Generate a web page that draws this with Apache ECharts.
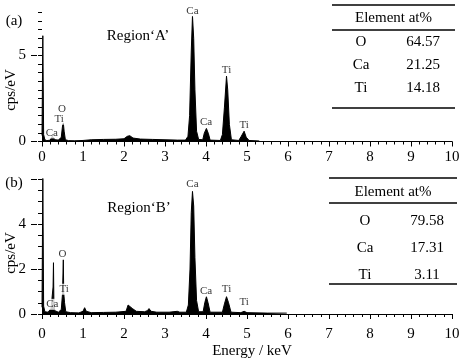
<!DOCTYPE html>
<html>
<head>
<meta charset="utf-8">
<script src="https://cdn.jsdelivr.net/npm/echarts@6/dist/echarts.min.js"></script>
<style>html,body{margin:0;padding:0;background:#fff;}#c{width:460px;height:360px;}</style>
</head>
<body>
<div id="c"></div>
<script>
// ---- Data ----
const xTickLabels = [0,1,2,3,4,5,6,7,8,9,10];
const yTickLabelsA = [0,5];
const yMajorTicksA = [0,5];
const yTickLabelsB = [0,2,4];
const yMajorTicksB = [0,2,4,6];

// Spectrum (a): energy (keV) and counts (cps/eV)
const specA_E = [0.00,0.02,0.04,0.07,0.12,0.20,0.25,0.28,0.32,0.40,0.47,0.50,0.52,0.54,0.57,0.65,0.80,1.00,1.20,1.50,1.80,2.00,2.08,2.14,2.22,2.40,2.70,3.00,3.30,3.50,3.56,3.60,3.64,3.67,3.70,3.73,3.77,3.82,3.92,3.96,4.01,4.06,4.10,4.35,4.40,4.45,4.50,4.53,4.57,4.62,4.80,4.86,4.93,4.98,5.05,5.30];
const specA_cps = [0.35,6.15,0.40,0.10,0.05,0.08,0.30,0.33,0.10,0.08,0.25,0.90,1.08,0.60,0.10,0.05,0.04,0.06,0.10,0.12,0.13,0.16,0.30,0.34,0.20,0.14,0.12,0.10,0.08,0.08,0.30,1.50,5.20,7.30,6.00,3.00,0.60,0.12,0.10,0.50,0.76,0.45,0.08,0.06,0.40,2.00,3.80,3.00,1.00,0.10,0.06,0.30,0.60,0.25,0.06,0.03];

// Spectrum (b)
const specB_E = [0.00,0.02,0.04,0.07,0.15,0.22,0.26,0.27,0.28,0.29,0.31,0.40,0.47,0.50,0.52,0.53,0.55,0.58,0.70,0.90,1.00,1.04,1.08,1.20,1.50,1.80,2.05,2.10,2.14,2.20,2.30,2.50,2.57,2.61,2.66,2.80,3.10,3.30,3.36,3.52,3.57,3.61,3.64,3.67,3.70,3.73,3.77,3.82,3.93,3.97,4.01,4.05,4.10,4.40,4.45,4.50,4.55,4.61,4.85,4.93,5.00,5.50,5.97];
const specB_cps = [0.30,6.05,0.35,0.10,0.08,0.25,0.30,1.20,2.28,0.60,0.15,0.08,0.20,0.90,2.43,0.95,0.50,0.10,0.06,0.05,0.12,0.28,0.12,0.06,0.07,0.08,0.12,0.40,0.45,0.25,0.12,0.10,0.15,0.24,0.12,0.08,0.08,0.12,0.08,0.08,0.40,2.00,4.50,5.45,4.80,2.50,0.60,0.10,0.10,0.50,0.77,0.50,0.08,0.08,0.45,0.77,0.50,0.08,0.06,0.12,0.06,0.04,0.04];

// Peak annotations (text, energy, counts)
const annA_text = ['Ca','Ti','O','Ca','Ca','Ti','Ti'];
const annA_E    = [0.24,0.42,0.49,3.67,4.00,4.50,4.93];
const annA_cps  = [0.50,1.30,1.90,7.60,1.12,4.15,0.95];
const annB_text = ['Ca','Ti','O','Ca','Ca','Ti','Ti'];
const annB_E    = [0.25,0.54,0.50,3.67,4.00,4.50,4.93];
const annB_cps  = [0.43,1.10,2.65,5.76,1.03,1.10,0.52];

// Composition tables
const elements = ['O','Ca','Ti'];
const atA = ['64.57','21.25','14.18'];
const atB = ['79.58','17.31','3.11'];
const tableHeader = 'Element at%';
const regionA = 'Region‘A’';
const regionB = 'Region‘B’';

// ---- Build ----
const FONT = 'Liberation Serif';
const zip = (a,b) => a.map((v,i)=>[v,b[i]]);
const annData = (t,e,c) => t.map((s,i)=>({value:[e[i],c[i]], name:s}));

function xAx(grid, margin, name) {
  const ax = {
    type:'value', gridIndex:grid, min:0, max:10, interval:1,
    axisLine:{show:true, onZero:false, lineStyle:{color:'#000', width:1}},
    axisTick:{show:true, length:5, lineStyle:{color:'#000'}},
    minorTick:{show:true, splitNumber:5, length:3, lineStyle:{color:'#000'}},
    splitLine:{show:false},
    axisLabel:{margin:margin, color:'#000', fontFamily:FONT, fontSize:15,
      formatter:v=> xTickLabels.includes(v) ? String(v) : ''}
  };
  if (name) {
    ax.name = name; ax.nameLocation = 'middle'; ax.nameGap = 30;
    ax.nameTextStyle = {color:'#000', fontFamily:FONT, fontSize:15, padding:[0,0,0,10]};
  }
  return ax;
}
function yMinor(grid, max) {
  return {type:'value', gridIndex:grid, min:0, max:max, interval:0.5, position:'left', offset:5,
    axisLine:{show:false}, axisTick:{show:true, length:4, lineStyle:{color:'#000'}},
    axisLabel:{show:false}, splitLine:{show:false}};
}
function yMajor(grid, max, interval, labels, ticks) {
  return {type:'value', gridIndex:grid, min:0, max:max, interval:interval, position:'left', offset:5,
    axisLine:{show:false},
    axisTick:{show:true, length:6, customValues:ticks, lineStyle:{color:'#000'}},
    splitLine:{show:false},
    axisLabel:{margin:11, color:'#000', fontFamily:FONT, fontSize:15, customValues:labels,
      formatter:v=> String(v)}};
}
function spec(xi, yi, data) {
  return {type:'line', xAxisIndex:xi, yAxisIndex:yi, data:data, symbol:'none', smooth:false,
    lineStyle:{color:'#000', width:1}, areaStyle:{color:'#000', opacity:1}, silent:true, animation:false};
}
function ann(xi, yi, data) {
  return {type:'scatter', xAxisIndex:xi, yAxisIndex:yi, data:data, symbolSize:0, clip:false, silent:true,
    animation:false, z:5,
    label:{show:true, position:'inside', formatter:p=>p.name, color:'#000', fontFamily:FONT, fontSize:11,
      backgroundColor:'#fff', padding:[0,0,0,0]}};
}
function table(x1, x2, yTop, yHead, yRule, yBot, rowsY, colE, colV, vals) {
  const els = [];
  [yTop, yRule, yBot].forEach(y => els.push({type:'line', shape:{x1:x1, y1:y, x2:x2, y2:y},
    style:{stroke:'#000', lineWidth:1.5}}));
  els.push({type:'text', x:(x1+x2)/2, y:yHead, style:{text:tableHeader, fontFamily:FONT, fontSize:15,
    fill:'#000', align:'center', verticalAlign:'middle'}});
  elements.forEach((el,i) => {
    els.push({type:'text', x:colE, y:rowsY[i], style:{text:el, fontFamily:FONT, fontSize:15, fill:'#000',
      align:'center', verticalAlign:'middle'}});
    els.push({type:'text', x:colV, y:rowsY[i], style:{text:vals[i], fontFamily:FONT, fontSize:15, fill:'#000',
      align:'center', verticalAlign:'middle'}});
  });
  return els;
}
function txt(x, y, s, size, rot) {
  return {type:'text', x:x, y:y, rotation:rot||0, style:{text:s, fontFamily:FONT, fontSize:size, fill:'#000',
    align:'center', verticalAlign:'middle'}};
}

const chart = echarts.init(document.getElementById('c'), null, {renderer:'canvas'});
chart.setOption({
  backgroundColor:'#fff',
  animation:false,
  grid:[
    {left:42, right:8, top:12.5, height:129, outerBoundsMode:'none', containLabel:false},
    {left:42, right:8, top:179, height:135, outerBoundsMode:'none', containLabel:false}
  ],
  xAxis:[ xAx(0, 8), xAx(1, 13, 'Energy / keV') ],
  yAxis:[ yMinor(0, 7.5), yMajor(0, 7.5, 5, yTickLabelsA, yMajorTicksA),
          yMinor(1, 6), yMajor(1, 6, 2, yTickLabelsB, yMajorTicksB) ],
  series:[
    spec(0, 0, zip(specA_E, specA_cps)),
    ann(0, 0, annData(annA_text, annA_E, annA_cps)),
    spec(1, 2, zip(specB_E, specB_cps)),
    ann(1, 2, annData(annB_text, annB_E, annB_cps))
  ],
  graphic:[].concat(
    table(332, 455, 5, 18, 30, 108, [42,65,88], 361, 423, atA),
    table(329, 457, 178, 192, 203, 284, [221,248,275], 365, 427, atB),
    [
      txt(14, 21, '(a)', 15), txt(14, 183, '(b)', 15),
      txt(138, 36, regionA, 15), txt(139, 208, regionB, 15),
      txt(11, 90, 'cps/eV', 15, Math.PI/2), txt(11, 253, 'cps/eV', 15, Math.PI/2)
    ]
  )
});
</script>
</body>
</html>
